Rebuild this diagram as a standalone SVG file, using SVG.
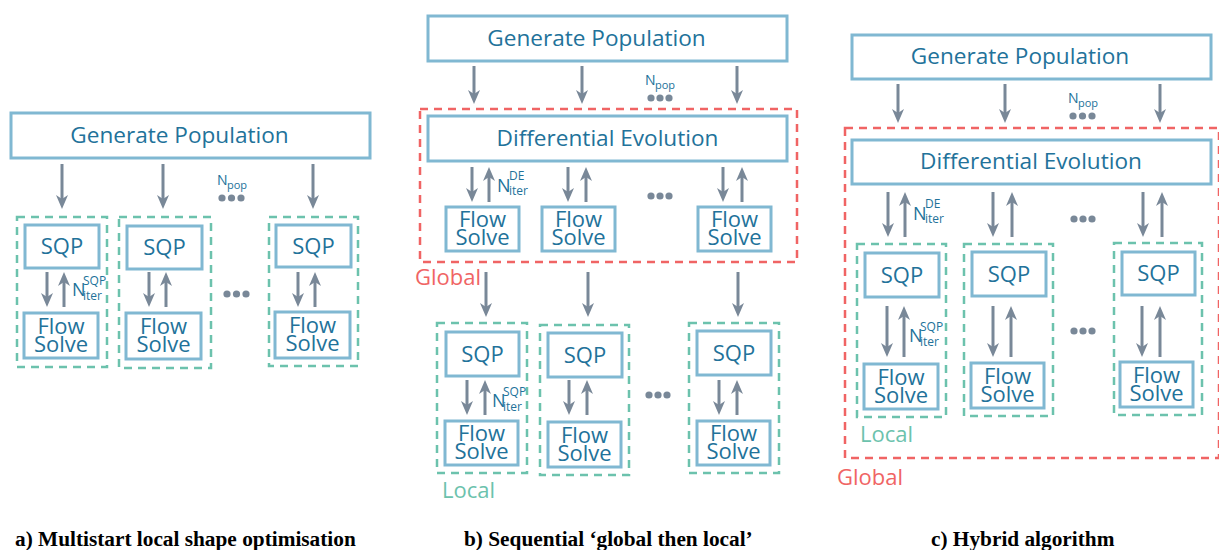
<svg xmlns="http://www.w3.org/2000/svg" width="1219" height="550" viewBox="0 0 1219 550">
<style>
.box{fill:#fff;stroke:#80b8d2;stroke-width:3}
.t{font-family:"Open Sans",sans-serif;fill:#22729a;text-anchor:middle;font-weight:500}
.big{font-size:22px}
.gp{font-size:22.6px}
.lab{font-family:"Open Sans",sans-serif;fill:#22729a;font-weight:500}
.s{font-size:12px}
.loc{fill:none;stroke:#6cc2ad;stroke-width:2.5;stroke-dasharray:8 6}
.glo{fill:none;stroke:#f06464;stroke-width:2.5;stroke-dasharray:8 6}
.a{stroke:#798898;stroke-width:3;marker-end:url(#ah)}
.dot{fill:#798898}
.cap{font-family:"Liberation Serif",serif;font-weight:bold;font-size:21.3px;fill:#000}
.gl{font-family:"Open Sans",sans-serif;font-size:22px;fill:#f06464}
.ll{font-family:"Open Sans",sans-serif;font-size:22px;fill:#6cc2ad}
</style>
<defs>
<marker id="ah" viewBox="0 0 14 12" refX="5" refY="6" markerWidth="14" markerHeight="12" markerUnits="userSpaceOnUse" orient="auto"><path d="M0,0 L14,6 L0,12 L4,6 z" fill="#798898"/></marker>
</defs>

<!-- Panel a -->
<g id="a-gp"><rect class="box" x="11" y="113" width="359" height="45"/><text class="t gp" x="179.5" y="143">Generate Population</text></g>
<g id="a-local1"><rect class="loc" x="17" y="217" width="90" height="150"/></g>
<g id="a-local2"><rect class="loc" x="119" y="217" width="92" height="151"/></g>
<g id="a-local3"><rect class="loc" x="269" y="217" width="89" height="149"/></g>
<g id="a-sqp1"><rect class="box" x="25" y="225" width="74" height="43"/><text class="t big" x="62" y="254">SQP</text></g>
<g id="a-sqp2"><rect class="box" x="127" y="226" width="75" height="43"/><text class="t big" x="164.5" y="255">SQP</text></g>
<g id="a-sqp3"><rect class="box" x="276" y="225" width="75" height="42"/><text class="t big" x="313.5" y="254">SQP</text></g>
<g id="a-fs1"><rect class="box" x="24" y="313" width="74" height="45"/><text class="t big"><tspan x="61" y="334">Flow</tspan><tspan x="61" y="352">Solve</tspan></text></g>
<g id="a-fs2"><rect class="box" x="126" y="313" width="75" height="46"/><text class="t big"><tspan x="163.5" y="334">Flow</tspan><tspan x="163.5" y="352">Solve</tspan></text></g>
<g id="a-fs3"><rect class="box" x="275" y="312" width="75" height="46"/><text class="t big"><tspan x="312.5" y="333">Flow</tspan><tspan x="312.5" y="351">Solve</tspan></text></g>
<g id="a-labels">
<text class="lab" x="217" y="185" font-size="14">N<tspan x="227" y="189" font-size="11">pop</tspan></text>
<circle class="dot" cx="222" cy="198" r="3.6"/><circle class="dot" cx="231.5" cy="198" r="3.6"/><circle class="dot" cx="241" cy="198" r="3.6"/>
<text class="lab" x="72" y="296" font-size="18">N<tspan class="s" x="83" y="285">SQP</tspan><tspan class="s" x="83" y="300">iter</tspan></text>
<circle class="dot" cx="227" cy="294" r="3.6"/><circle class="dot" cx="236.5" cy="294" r="3.6"/><circle class="dot" cx="246" cy="294" r="3.6"/>
</g>

<!-- Panel b -->
<g id="b-gp"><rect class="box" x="428" y="16" width="359" height="45"/><text class="t gp" x="596.5" y="46">Generate Population</text></g>
<g id="b-global"><rect class="glo" x="420" y="109" width="377" height="153"/><text class="gl" x="415" y="285">Global</text></g>
<g id="b-de"><rect class="box" x="428" y="116" width="359" height="45"/><text class="t gp" x="607.5" y="146">Differential Evolution</text></g>
<g id="b-fsg1"><rect class="box" x="446" y="207" width="73" height="44"/><text class="t big"><tspan x="482.5" y="227">Flow</tspan><tspan x="482.5" y="245">Solve</tspan></text></g>
<g id="b-fsg2"><rect class="box" x="542" y="207" width="73" height="44"/><text class="t big"><tspan x="578.5" y="227">Flow</tspan><tspan x="578.5" y="245">Solve</tspan></text></g>
<g id="b-fsg3"><rect class="box" x="698" y="207" width="73" height="44"/><text class="t big"><tspan x="734.5" y="227">Flow</tspan><tspan x="734.5" y="245">Solve</tspan></text></g>
<g id="b-local1"><rect class="loc" x="437" y="323" width="90" height="150"/><text class="ll" x="442" y="498">Local</text></g>
<g id="b-local2"><rect class="loc" x="540" y="325" width="89" height="150"/></g>
<g id="b-local3"><rect class="loc" x="689" y="323" width="90" height="150"/></g>
<g id="b-sqp1"><rect class="box" x="446" y="332" width="73" height="44"/><text class="t big" x="482.5" y="362">SQP</text></g>
<g id="b-sqp2"><rect class="box" x="548" y="333" width="74" height="44"/><text class="t big" x="585" y="363">SQP</text></g>
<g id="b-sqp3"><rect class="box" x="697" y="331" width="74" height="44"/><text class="t big" x="734" y="361">SQP</text></g>
<g id="b-fs1"><rect class="box" x="445" y="421" width="73" height="44"/><text class="t big"><tspan x="481.5" y="441">Flow</tspan><tspan x="481.5" y="459">Solve</tspan></text></g>
<g id="b-fs2"><rect class="box" x="548" y="422" width="73" height="45"/><text class="t big"><tspan x="584.5" y="443">Flow</tspan><tspan x="584.5" y="461">Solve</tspan></text></g>
<g id="b-fs3"><rect class="box" x="697" y="421" width="73" height="44"/><text class="t big"><tspan x="733.5" y="441">Flow</tspan><tspan x="733.5" y="459">Solve</tspan></text></g>
<g id="b-labels">
<text class="lab" x="645" y="85" font-size="14">N<tspan x="655" y="89" font-size="11">pop</tspan></text>
<circle class="dot" cx="651" cy="98" r="3.6"/><circle class="dot" cx="660" cy="98" r="3.6"/><circle class="dot" cx="669" cy="98" r="3.6"/>
<text class="lab" x="497" y="192" font-size="18">N<tspan class="s" x="509" y="180">DE</tspan><tspan class="s" x="509" y="195">iter</tspan></text>
<circle class="dot" cx="651" cy="196" r="3.6"/><circle class="dot" cx="660" cy="196" r="3.6"/><circle class="dot" cx="669" cy="196" r="3.6"/>
<text class="lab" x="492" y="407" font-size="18">N<tspan class="s" x="503" y="396">SQP</tspan><tspan class="s" x="503" y="411">iter</tspan></text>
<circle class="dot" cx="649" cy="395" r="3.6"/><circle class="dot" cx="658" cy="395" r="3.6"/><circle class="dot" cx="667" cy="395" r="3.6"/>
</g>

<!-- Panel c -->
<g id="c-gp"><rect class="box" x="852" y="35" width="359" height="44"/><text class="t gp" x="1020" y="64">Generate Population</text></g>
<g id="c-global"><rect class="glo" x="845" y="128" width="374" height="330"/><text class="gl" x="837" y="485">Global</text></g>
<g id="c-de"><rect class="box" x="852" y="140" width="359" height="44"/><text class="t gp" x="1031" y="169">Differential Evolution</text></g>
<g id="c-local1"><rect class="loc" x="857" y="244" width="89" height="173"/><text class="ll" x="860" y="442">Local</text></g>
<g id="c-local2"><rect class="loc" x="964" y="244" width="89" height="172"/></g>
<g id="c-local3"><rect class="loc" x="1114" y="243" width="88" height="172"/></g>
<g id="c-sqp1"><rect class="box" x="865" y="253" width="74" height="44"/><text class="t big" x="902" y="283">SQP</text></g>
<g id="c-sqp2"><rect class="box" x="972" y="252" width="74" height="44"/><text class="t big" x="1009" y="282">SQP</text></g>
<g id="c-sqp3"><rect class="box" x="1122" y="252" width="73" height="43"/><text class="t big" x="1158.5" y="281">SQP</text></g>
<g id="c-fs1"><rect class="box" x="864" y="364" width="74" height="45"/><text class="t big"><tspan x="901" y="385">Flow</tspan><tspan x="901" y="403">Solve</tspan></text></g>
<g id="c-fs2"><rect class="box" x="971" y="363" width="73" height="45"/><text class="t big"><tspan x="1007.5" y="384">Flow</tspan><tspan x="1007.5" y="402">Solve</tspan></text></g>
<g id="c-fs3"><rect class="box" x="1120" y="362" width="73" height="45"/><text class="t big"><tspan x="1156.5" y="383">Flow</tspan><tspan x="1156.5" y="401">Solve</tspan></text></g>
<g id="c-labels">
<text class="lab" x="1068" y="103" font-size="14">N<tspan x="1078" y="107" font-size="11">pop</tspan></text>
<circle class="dot" cx="1073" cy="116" r="3.6"/><circle class="dot" cx="1082.5" cy="116" r="3.6"/><circle class="dot" cx="1092" cy="116" r="3.6"/>
<text class="lab" x="913" y="220" font-size="18">N<tspan class="s" x="925" y="208">DE</tspan><tspan class="s" x="925" y="223">iter</tspan></text>
<circle class="dot" cx="1074" cy="219" r="3.6"/><circle class="dot" cx="1083" cy="219" r="3.6"/><circle class="dot" cx="1092" cy="219" r="3.6"/>
<text class="lab" x="909" y="342" font-size="18">N<tspan class="s" x="920" y="331">SQP</tspan><tspan class="s" x="920" y="346">iter</tspan></text>
<circle class="dot" cx="1074" cy="331" r="3.6"/><circle class="dot" cx="1083" cy="331" r="3.6"/><circle class="dot" cx="1092" cy="331" r="3.6"/>
</g>

<g id="connectors">
<line class="a" x1="62" y1="164" x2="62" y2="200"/>
<line class="a" x1="163" y1="164" x2="163" y2="200"/>
<line class="a" x1="313" y1="164" x2="313" y2="200"/>
<line class="a" x1="47" y1="272" x2="47" y2="298"/><line class="a" x1="64" y1="307" x2="64" y2="281"/>
<line class="a" x1="149" y1="272" x2="149" y2="298"/><line class="a" x1="166" y1="307" x2="166" y2="281"/>
<line class="a" x1="298" y1="272" x2="298" y2="298"/><line class="a" x1="315" y1="307" x2="315" y2="281"/>
<line class="a" x1="474" y1="66" x2="474" y2="95"/>
<line class="a" x1="582" y1="66" x2="582" y2="95"/>
<line class="a" x1="737" y1="66" x2="737" y2="95"/>
<line class="a" x1="472" y1="167" x2="472" y2="193"/><line class="a" x1="489" y1="202" x2="489" y2="176"/>
<line class="a" x1="568" y1="167" x2="568" y2="193"/><line class="a" x1="586" y1="202" x2="586" y2="176"/>
<line class="a" x1="723" y1="167" x2="723" y2="193"/><line class="a" x1="742" y1="202" x2="742" y2="176"/>
<line class="a" x1="486" y1="272" x2="486" y2="308"/>
<line class="a" x1="588" y1="272" x2="588" y2="308"/>
<line class="a" x1="738" y1="272" x2="738" y2="308"/>
<line class="a" x1="467" y1="380" x2="467" y2="406"/><line class="a" x1="485" y1="415" x2="485" y2="389"/>
<line class="a" x1="569" y1="380" x2="569" y2="406"/><line class="a" x1="587" y1="415" x2="587" y2="389"/>
<line class="a" x1="719" y1="380" x2="719" y2="406"/><line class="a" x1="737" y1="415" x2="737" y2="389"/>
<line class="a" x1="898" y1="84" x2="898" y2="114"/>
<line class="a" x1="1005" y1="84" x2="1005" y2="114"/>
<line class="a" x1="1160" y1="84" x2="1160" y2="114"/>
<line class="a" x1="888" y1="192" x2="888" y2="228"/><line class="a" x1="905" y1="237" x2="905" y2="201"/>
<line class="a" x1="993" y1="192" x2="993" y2="228"/><line class="a" x1="1012" y1="237" x2="1012" y2="201"/>
<line class="a" x1="1143" y1="192" x2="1143" y2="228"/><line class="a" x1="1162" y1="237" x2="1162" y2="201"/>
<line class="a" x1="887" y1="306" x2="887" y2="348"/><line class="a" x1="904" y1="357" x2="904" y2="315"/>
<line class="a" x1="993" y1="306" x2="993" y2="348"/><line class="a" x1="1011" y1="357" x2="1011" y2="315"/>
<line class="a" x1="1142" y1="306" x2="1142" y2="348"/><line class="a" x1="1160" y1="357" x2="1160" y2="315"/>
</g>

<g id="captions">
<text class="cap" x="15" y="546">a)  Multistart local shape optimisation</text>
<text class="cap" x="464" y="546">b)  Sequential ‘global then local’</text>
<text class="cap" x="931" y="546">c)  Hybrid algorithm</text>
</g>
</svg>
